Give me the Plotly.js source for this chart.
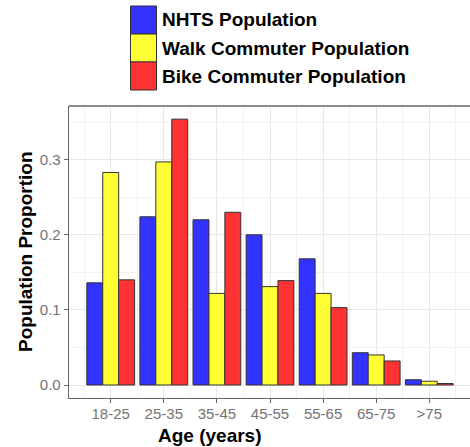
<!DOCTYPE html>
<html>
<head>
<meta charset="utf-8">
<script src="https://cdn.plot.ly/plotly-3.0.1.min.js"></script>
<style>html,body{margin:0;padding:0;background:#fff;}#chart{width:470px;height:447px;}</style>
</head>
<body>
<div id="chart"></div>
<script>
const categories = ['18-25','25-35','35-45','45-55','55-65','65-75','>75'];
const seriesNames = ['NHTS Population','Walk Commuter Population','Bike Commuter Population'];
const nhts = [0.136, 0.224, 0.220, 0.200, 0.168, 0.043, 0.007];
const walk = [0.283, 0.297, 0.122, 0.131, 0.122, 0.040, 0.005];
const bike = [0.140, 0.354, 0.230, 0.139, 0.103, 0.032, 0.002];
const seriesColors = ['#3333FF','#FFFF33','#FF3333'];
const yTicks = [0, 0.1, 0.2, 0.3];

const W = 470, H = 447;
const mL = 69, mR = 0, mT = 106, mB = 49;
const pw = W - mL - mR, ph = H - mT - mB;
const px2x = p => (p - mL) / pw;
const py2y = p => (H - mB - p) / ph;

const xs = categories.map((c, i) => i);
const allSeries = [nhts, walk, bike];
const traces = allSeries.map((vals, k) => ({
  type: 'bar',
  x: xs,
  y: vals,
  name: seriesNames[k],
  marker: {color: seriesColors[k], line: {color: '#333333', width: 1}},
  showlegend: false,
  hoverinfo: 'skip'
}));

const minorX = [];
for (let i = 0; i <= categories.length; i++) minorX.push(i - 0.5);

const FONT = 'Liberation Sans, Arial, sans-serif';
const shapes = [];
const annotations = [];
const legTop = 6, legH = 28;
seriesNames.forEach((n, k) => {
  const y0 = legTop + k * legH, y1 = y0 + legH;
  shapes.push({type: 'rect', xref: 'paper', yref: 'paper',
    x0: px2x(130.5), x1: px2x(156.5), y0: py2y(y1), y1: py2y(y0),
    fillcolor: seriesColors[k], line: {color: '#333333', width: 1}});
  annotations.push({xref: 'paper', yref: 'paper', x: px2x(160), y: py2y((y0 + y1) / 2),
    xanchor: 'left', yanchor: 'middle', showarrow: false, text: '<b>' + n + '</b>',
    font: {family: FONT, size: 19, color: '#000'}});
});
annotations.push({xref: 'paper', yref: 'paper', x: px2x(25), y: 0.5, textangle: -90,
  xanchor: 'center', yanchor: 'middle', showarrow: false, text: '<b>Population Proportion</b>',
  font: {family: FONT, size: 19, color: '#000'}});
annotations.push({xref: 'paper', yref: 'paper', x: px2x((158 + 262) / 2), y: py2y(435),
  xanchor: 'center', yanchor: 'middle', showarrow: false, text: '<b>Age (years)</b>',
  font: {family: FONT, size: 19, color: '#000'}});

const spacing = 53.1;
const layout = {
  width: W, height: H,
  margin: {l: mL, r: mR, t: mT, b: mB, pad: 0},
  paper_bgcolor: '#fff', plot_bgcolor: '#fff',
  barmode: 'group', bargap: 0.1, bargroupgap: 0,
  showlegend: false,
  xaxis: {
    type: 'linear',
    range: [-(110.7 - mL) / spacing, (W - 110.7) / spacing],
    tickmode: 'array', tickvals: xs, ticktext: categories,
    ticks: 'outside', ticklen: 4, tickcolor: '#666', tickwidth: 1,
    ticklabelstandoff: -2,
    tickfont: {family: FONT, size: 15, color: '#737373'},
    showgrid: true, gridcolor: '#E8E8E8', gridwidth: 1,
    minor: {tickmode: 'array', tickvals: minorX, showgrid: true, gridcolor: '#F2F2F2', gridwidth: 1, ticks: ''},
    zeroline: false,
    showline: true, linecolor: '#666', linewidth: 1.3, mirror: false,
    fixedrange: true
  },
  yaxis: {
    range: [-13 / 751, 279 / 751],
    tickmode: 'array', tickvals: yTicks, ticktext: yTicks.map(v => v.toFixed(1)),
    ticks: 'outside', ticklen: 4, tickcolor: '#666', tickwidth: 1,
    tickfont: {family: FONT, size: 15, color: '#737373'},
    showgrid: true, gridcolor: '#E8E8E8', gridwidth: 1,
    minor: {tickmode: 'array', tickvals: [0.05, 0.15, 0.25, 0.35], showgrid: true, gridcolor: '#F2F2F2', gridwidth: 1, ticks: ''},
    zeroline: false,
    showline: true, linecolor: '#666', linewidth: 1.3, mirror: false,
    fixedrange: true
  },
  shapes: shapes.concat([{type: 'line', xref: 'paper', yref: 'paper', x0: 0, x1: 1, y0: 1, y1: 1,
    line: {color: '#666', width: 1.3}}]),
  annotations: annotations
};

Plotly.newPlot('chart', traces, layout, {displayModeBar: false, staticPlot: true});
</script>
</body>
</html>
